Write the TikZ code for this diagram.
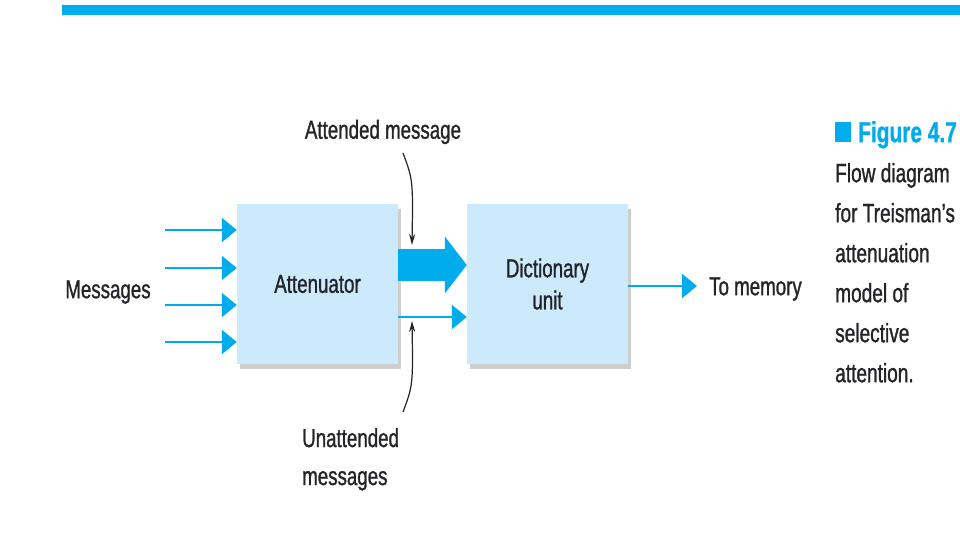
\documentclass[tikz,border=0pt]{standalone}
\usepackage{fontspec}
\setmainfont{Liberation Sans}[FakeStretch=0.72, FakeBold=1]
\usetikzlibrary{arrows.meta, positioning, shadows}
\definecolor{flowblue}{RGB}{0,172,236}
\definecolor{boxblue}{RGB}{204,234,251}
\definecolor{inkgray}{RGB}{35,35,40}
\tikzstyle{block} = [fill=boxblue, rectangle, minimum width=161pt, minimum height=160pt, inner sep=0pt,
  drop shadow={shadow xshift=3pt, shadow yshift=-5pt, opacity=0.35, fill=black!55}]
\tikzstyle{flow} = [-{Triangle[length=15pt,width=24pt]}, line width=2.5pt, color=flowblue]
\tikzstyle{bigflow} = [-{Triangle[length=22pt,width=56pt]}, line width=32pt, color=flowblue]
\tikzstyle{pointer} = [-{Stealth[length=11pt,width=6pt]}, line width=1.2pt, color=inkgray]
\tikzstyle{txt} = [text=inkgray, inner sep=0pt, font=\fontsize{26}{32}\selectfont]

\begin{document}
\begin{tikzpicture}[x=1pt,y=-1pt]
  \useasboundingbox (0,0) rectangle (960,540);
  \fill[flowblue] (62,5) rectangle (960,15);

  % boxes
  \node[block] (att) at (317.5,284) {};
  \node[block] (dict) at (547.5,284) {};
  \node[txt] at (att) {Attenuator};
  \node[txt, align=center] at (dict) {Dictionary\\unit};

  % inputs
  \node[txt] (msgs) at (108,292) {Messages};
  \foreach \i/\y in {1/230, 2/268, 3/305, 4/342} {
    \coordinate (in\i) at (165,\y);
    \draw[flow] (in\i) -- (att.west |- in\i);
  }

  % attended and unattended channels
  \draw[bigflow] ([yshift=19pt]att.east) -- ([yshift=19pt]dict.west);
  \draw[flow] ([yshift=-33pt]att.east) -- ([yshift=-33pt]dict.west);

  % output
  \node[txt, anchor=west] (mem) at (709,289) {To memory};
  \coordinate (memin) at (697,286);
  \draw[flow] ([yshift=-2pt]dict.east) -- (memin);

  % pointers
  \node[txt] (attmsg) at (383,132) {Attended message};
  \coordinate (attfrom) at (403,153);
  \coordinate (attto) at (412,245);
  \draw[pointer] (attfrom) .. controls (413,180) .. (attto);
  \node[txt, anchor=north west, align=left, font=\fontsize{26}{38}\selectfont] (unatt) at (302,428) {Unattended\\messages};
  \coordinate (unfrom) at (403,412);
  \coordinate (unto) at (412,321);
  \draw[pointer] (unfrom) .. controls (413,385) .. (unto);

  % caption
  \node[txt, anchor=north west, align=left, font=\fontsize{26.5}{40}\selectfont] (cap) at (835,121)
    {{\color{flowblue}\rule{16pt}{20pt}\hspace{7pt}\fontsize{29}{40}\selectfont\textbf{Figure 4.7}}\\Flow diagram\\for Treisman's\\attenuation\\model of\\selective\\attention.};
\end{tikzpicture}
\end{document}
